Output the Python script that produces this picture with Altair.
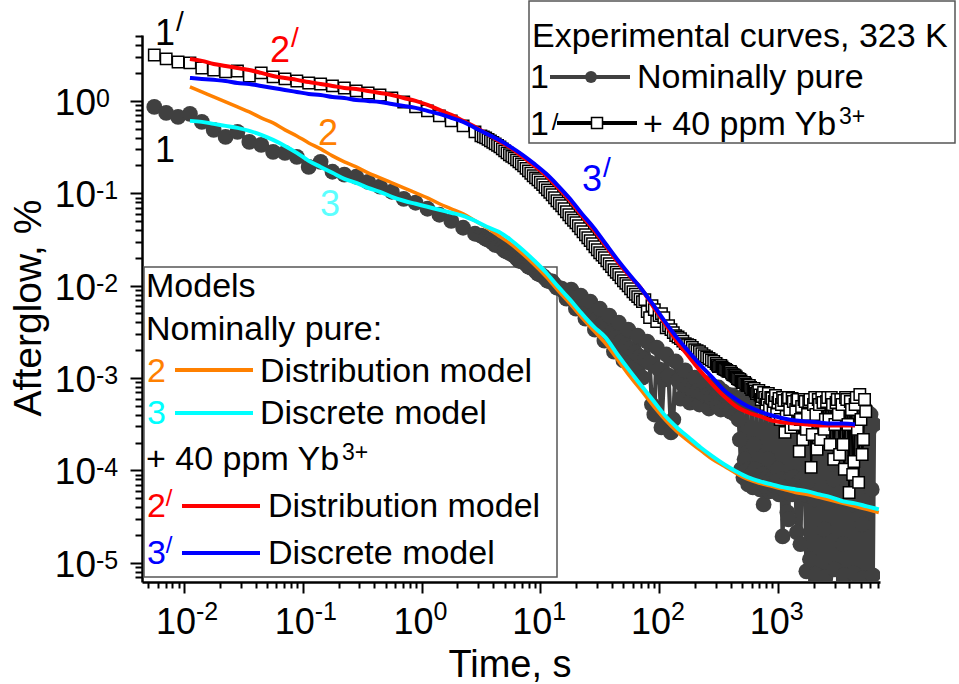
import altair as alt
import pandas as pd

FONT = "Liberation Sans"
PL, PT, PW, PH = 142, 35, 738, 547          # plot box in page pixels
GRAY, ORANGE, CYAN, RED, BLUE = "#404040", "#FF8000", "#00FFFF", "#FF0000", "#0000FF"

# ---------------- time grids (s) ----------------
T_EARLY = [0.005623, 0.007079, 0.008913, 0.01122, 0.01413, 0.01778, 0.02239, 0.02818, 0.03548, 0.04467,
           0.05623, 0.07079, 0.08913, 0.1122, 0.1413, 0.1778, 0.2239, 0.2818, 0.3548, 0.4467,
           0.5623, 0.7079, 0.8913, 1.122, 1.413, 1.778, 2.239, 2.818]
T_MID = [3.162, 3.467, 3.802, 4.169, 4.571, 5.012, 5.495, 6.026, 6.607, 7.244,
         7.943, 8.710, 9.550, 10.47, 11.48, 12.59, 13.80, 15.14, 16.60, 18.20,
         19.95, 21.88, 23.99, 26.30, 28.84, 31.62, 34.67, 38.02, 41.69, 45.71,
         50.12, 54.95, 60.26, 66.07, 72.44, 79.43, 87.10, 95.50, 104.7, 114.8,
         125.9, 138.0, 151.4, 166.0, 182.0, 199.5, 218.8, 239.9, 263.0, 288.4]
T_MID_B = [3.311, 3.631, 3.981, 4.365, 4.786, 5.248, 5.754, 6.310, 6.918, 7.586,
           8.318, 9.120, 10.00, 10.96, 12.02, 13.18, 14.45, 15.85, 17.38, 19.05,
           20.89, 22.91, 25.12, 27.54, 30.20, 33.11, 36.31, 39.81, 43.65, 47.86,
           52.48, 57.54, 63.10, 69.18, 75.86, 83.18, 91.20, 100.0, 109.6, 120.2,
           131.8, 144.5, 158.5, 173.8, 190.5, 208.9, 229.1, 251.2, 275.4]
T_LATE = [302.0, 316.2, 331.1, 346.7, 363.1, 380.2, 398.1, 416.9, 436.5, 457.1,
          478.6, 501.2, 524.8, 549.5, 575.4, 602.6, 631.0, 660.7, 691.8, 724.4,
          758.6, 794.3, 831.8, 871.0, 912.0, 955.0, 1000, 1047, 1096, 1148,
          1202, 1259, 1318, 1380, 1445, 1514, 1585, 1660, 1738, 1820,
          1905, 1995, 2089, 2188, 2291, 2399, 2512, 2630, 2754, 2884,
          3020, 3162, 3311, 3467, 3631, 3802, 3981, 4169, 4365, 4571,
          4786, 5012, 5248, 5495, 5754, 6026, 6310]
T_LATE_B = [309.0, 323.6, 338.8, 354.8, 371.5, 389.0, 407.4, 426.6, 446.7, 467.7,
            489.8, 512.9, 537.0, 562.3, 588.8, 616.6, 645.7, 676.1, 707.9, 741.3,
            776.2, 812.8, 851.1, 891.3, 933.3, 977.2, 1023, 1072, 1122, 1175,
            1230, 1288, 1349, 1413, 1479, 1549, 1622, 1698, 1778, 1862,
            1950, 2042, 2138, 2239, 2344, 2455, 2570, 2692, 2818, 2951,
            3090, 3236, 3388, 3548, 3715, 3890, 4074, 4266, 4467, 4677,
            4898, 5129, 5370, 5623, 5888, 6166, 6457]
T_MODEL = [0.01122, 0.01413, 0.01778, 0.02239, 0.02818, 0.03548, 0.04467, 0.05623, 0.07079, 0.08913,
           0.1122, 0.1413, 0.1778, 0.2239, 0.2818, 0.3548, 0.4467, 0.5623, 0.7079, 0.8913,
           1.122, 1.413, 1.778, 2.239, 2.818, 3.548, 4.467, 5.623, 7.079, 8.913,
           11.22, 14.13, 17.78, 22.39, 28.18, 35.48, 44.67, 56.23, 70.79, 89.13,
           112.2, 141.3, 177.8, 223.9, 281.8, 354.8, 446.7, 562.3, 707.9, 891.3,
           1122, 1413, 1778, 2239, 2818, 3548, 4467, 5623, 7079]

# ---------------- experimental curve 1: nominally pure (%) ----------------
PURE_EARLY = [0.861, 0.742, 0.672, 0.724, 0.593, 0.486, 0.408, 0.462, 0.360, 0.334,
              0.281, 0.274, 0.248, 0.193, 0.219, 0.171, 0.159, 0.151, 0.133, 0.118,
              0.104, 0.0872, 0.0790, 0.0680, 0.0586, 0.0504, 0.0424, 0.0365]
PURE_MID = [0.0347, 0.0322, 0.0307, 0.0277, 0.0271, 0.0239, 0.0227, 0.0211, 0.0186, 0.0182,
            0.0161, 0.0153, 0.0135, 0.0128, 0.0113, 0.0111, 0.00951, 0.00928, 0.00724, 0.00905,
            0.00564, 0.00780, 0.00440, 0.00672, 0.00334, 0.00564, 0.00254, 0.00474, 0.00193, 0.00398,
            0.00155, 0.00334, 0.00127, 0.00288, 0.00101, 0.00248, 5.17e-4, 0.00214, 2.92e-4, 0.00180,
            2.58e-4, 0.00151, 6.00e-4, 0.00121, 5.43e-4, 0.00101, 5.17e-4, 8.94e-4, 4.68e-4, 8.09e-4]
PURE_MID_B = [0.0339, 0.0314, 0.0292, 0.0274, 0.0254, 0.0233, 0.0219, 0.0198, 0.0184, 0.0171,
              0.0157, 0.0144, 0.0132, 0.0121, 0.0112, 0.0103, 0.00940, 0.00861, 0.00799, 0.00724,
              0.00655, 0.00593, 0.00537, 0.00474, 0.00429, 0.00379, 0.00343, 0.00310, 0.00274, 0.00248,
              0.00225, 0.00208, 0.00189, 0.00171, 0.00159, 0.00147, 4.03e-4, 0.00124, 9.63e-4, 0.00106,
              3.56e-4, 9.40e-4, 8.51e-4, 8.09e-4, 7.51e-4, 7.15e-4, 6.80e-4, 6.47e-4, 6.16e-4]
PURE_LATE = [6.16e-4, 7.90e-4, 4.57e-4, 7.15e-4, 5.17e-4, 6.63e-4, 4.34e-4, 6.47e-4, 4.03e-4, 5.86e-4,
             2.16e-4, 6.16e-4, 1.32e-4, 5.57e-4, 1.03e-4, 5.30e-4, 1.91e-4, 5.04e-4, 7.99e-5, 5.43e-4,
             4.29e-5, 4.80e-4, 1.32e-4, 5.17e-4, 6.23e-5, 4.57e-4, 1.03e-4, 5.04e-4, 1.93e-5, 4.68e-4,
             3.51e-5, 4.92e-4, 5.50e-5, 4.57e-4, 2.14e-5, 4.80e-4, 7.99e-5, 4.45e-4, 8.09e-6, 4.68e-4,
             1e-6, 4.34e-4, 7.51e-6, 4.80e-4, 1e-6, 4.24e-4, 6.97e-6, 4.57e-4, 1e-6, 4.34e-4,
             8.51e-6, 4.68e-4, 1e-6, 4.13e-4, 7.33e-6, 4.57e-4, 1e-6, 4.34e-4, 7.70e-6, 4.80e-4,
             1e-6, 4.24e-4, 6.80e-6, 4.57e-4, 1e-6, 4.03e-4, 7.33e-6]
PURE_LATE_B = [5.17e-4, 6.63e-4, 5.57e-4, 4.68e-4, 6.16e-4, 5.04e-4, 5.71e-4, 4.57e-4, 5.30e-4, 3.56e-4,
               1.03e-4, 8.40e-5, 9.75e-5, 7.06e-5, 8.83e-5, 6.55e-5, 1.03e-4, 7.61e-5, 6.23e-5, 9.05e-5,
               6.88e-5, 8.40e-5, 5.93e-5, 7.99e-5, 6.88e-5, 8.83e-5, 5.50e-5, 7.99e-5, 6.23e-5, 7.61e-5,
               2.95e-5, 7.06e-5, 8.40e-5, 5.93e-5, 7.24e-5, 1.59e-5, 6.55e-5, 5.50e-5, 7.61e-5, 1.09e-5,
               3.14e-4, 4.86e-5, 3.84e-4, 1e-6, 2.92e-4, 2.30e-5, 3.56e-4, 1e-6, 2.78e-4, 7.99e-5,
               3.39e-4, 1e-6, 3.07e-4, 1.59e-5, 3.84e-4, 1e-6, 2.64e-4, 4.29e-5, 3.56e-4, 1e-6,
               2.92e-4, 2.61e-5, 3.39e-4, 1e-6, 2.78e-4, 6.23e-5, 3.14e-4]

# ---------------- experimental curve 1': + 40 ppm Yb3+ (%) ----------------
YB_EARLY = [3.14, 2.85, 2.64, 2.58, 2.27, 2.16, 2.06, 2.11, 1.86, 2.01,
            1.82, 1.73, 1.645, 1.565, 1.527, 1.453, 1.382, 1.283, 1.220, 1.161,
            1.077, 0.975, 0.861, 0.780, 0.688, 0.608, 0.537, 0.462]
YB_MID = [0.418, 0.398, 0.369, 0.343, 0.318, 0.288, 0.261, 0.242, 0.219, 0.198,
          0.175, 0.155, 0.140, 0.124, 0.109, 0.0963, 0.0830, 0.0733, 0.0631, 0.0544,
          0.0480, 0.0413, 0.0356, 0.0307, 0.0264, 0.0227, 0.0201, 0.0173, 0.0149, 0.0132,
          0.0113, 0.0100, 0.00861, 0.00761, 0.00672, 0.00524, 0.00608, 0.00408, 0.00498, 0.00351,
          0.00334, 0.00288, 0.00267, 0.00236, 0.00225, 0.00203, 0.00193, 0.00175, 0.00163, 0.00151]
YB_MID_B = [0.408, 0.3835, 0.356, 0.330, 0.3027, 0.274, 0.251, 0.230, 0.208, 0.186,
            0.1645, 0.147, 0.1316, 0.116, 0.1025, 0.0894, 0.0780, 0.0680, 0.0586, 0.0511,
            0.0445, 0.0384, 0.0330, 0.0284, 0.0245, 0.0214, 0.0186, 0.0161, 0.0140, 0.0122,
            0.0106, 0.00928, 0.00809, 0.00715, 0.00706, 0.00451, 0.00550, 0.00474, 0.00451, 0.00369,
            0.00310, 0.00278, 0.00251, 0.00230, 0.00214, 0.00198, 0.00184, 0.00169, 0.00157]
YB_LATE = [0.00144, 0.00133, 0.00137, 0.00127, 0.00124, 0.00118, 0.00118, 0.00109, 0.00106, 9.88e-4,
           9.63e-4, 8.94e-4, 8.94e-4, 8.30e-4, 8.30e-4, 7.51e-4, 7.70e-4, 6.80e-4, 7.33e-4, 5.86e-4,
           6.97e-4, 5.17e-4, 6.80e-4, 6.16e-4, 4.34e-4, 6.47e-4, 5.43e-4, 3.56e-4, 6.16e-4, 2.58e-4,
           5.86e-4, 4.57e-4, 6.00e-4, 3.14e-4, 5.71e-4, 1.61e-4, 4.92e-4, 5.86e-4, 2.78e-4, 5.57e-4,
           1.08e-4, 5.17e-4, 4.03e-4, 5.86e-4, 2.16e-4, 5.43e-4, 3.56e-4, 6.16e-4, 1.91e-4, 5.17e-4,
           3.14e-4, 5.86e-4, 1.49e-4, 5.17e-4, 1.03e-4, 5.86e-4, 5.78e-5, 4.57e-4, 1.25e-4, 6.16e-4,
           7.42e-5, 3.56e-4, 2.16e-4, 4.34e-4]
YB_LATE_B = [0.00138, 0.00135, 0.00132, 0.00125, 0.00121, 0.00118, 0.00113, 0.00108, 0.00103, 9.75e-4,
             9.28e-4, 8.94e-4, 8.61e-4, 8.30e-4, 7.90e-4, 7.61e-4, 7.24e-4, 7.06e-4, 6.55e-4, 6.31e-4,
             6.16e-4, 5.86e-4, 4.80e-4, 6.00e-4, 5.57e-4, 4.03e-4, 6.00e-4, 5.17e-4, 5.71e-4, 3.84e-4,
             6.16e-4, 2.92e-4, 5.57e-4, 4.57e-4, 5.86e-4, 3.56e-4, 2.16e-4, 5.57e-4, 4.03e-4, 5.86e-4,
             2.45e-4, 6.16e-4, 1.69e-4, 5.17e-4, 6.16e-4, 2.78e-4, 5.57e-4, 3.56e-4, 6.16e-4, 1.32e-4,
             5.43e-4, 4.03e-4, 5.86e-4, 1.91e-4, 6.16e-4, 3.14e-4, 5.57e-4, 9.05e-5, 5.17e-4, 2.78e-4,
             6.63e-4, 1.49e-4, 5.86e-4]

# ---------------- model curves (%) ----------------
ORANGE_2 = [1.417, 1.251, 1.105, 0.975, 0.861, 0.7605, 0.655, 0.578, 0.486, 0.418,
            0.351, 0.3027, 0.254, 0.219, 0.193, 0.1666, 0.1471, 0.1299, 0.1147, 0.1012,
            0.0894, 0.0770, 0.0680, 0.0600, 0.0504, 0.0424, 0.0347, 0.0284, 0.0222, 0.0169,
            0.0125, 0.00883, 0.00639, 0.00451, 0.00326, 0.00236, 0.00159, 0.00106, 7.33e-4, 5.04e-4,
            3.56e-4, 2.64e-4, 2.06e-4, 1.65e-4, 1.32e-4, 1.11e-4, 9.28e-5, 7.99e-5, 7.24e-5, 6.72e-5,
            6.23e-5, 5.78e-5, 5.50e-5, 5.11e-5, 4.74e-5, 4.40e-5, 4.08e-5, 3.79e-5, 3.51e-5]
CYAN_3 = [0.608, 0.593, 0.564, 0.537, 0.511, 0.474, 0.429, 0.379, 0.326, 0.274,
          0.2245, 0.193, 0.1666, 0.1435, 0.1299, 0.1147, 0.1038, 0.0917, 0.0830, 0.0770,
          0.0715, 0.0663, 0.0616, 0.0571, 0.0504, 0.0434, 0.0384, 0.0314, 0.0245, 0.0186,
          0.0138, 0.00975, 0.00706, 0.00498, 0.00360, 0.00274, 0.00180, 0.00121, 8.30e-4, 5.71e-4,
          3.93e-4, 2.92e-4, 2.27e-4, 1.77e-4, 1.42e-4, 1.16e-4, 9.75e-5, 8.40e-5, 7.61e-5, 7.06e-5,
          6.55e-5, 6.23e-5, 5.93e-5, 5.50e-5, 5.11e-5, 4.62e-5, 4.40e-5, 4.08e-5, 3.79e-5]
RED_2P = [2.85, 2.71, 2.51, 2.39, 2.27, 2.16, 2.01, 1.86, 1.77, 1.69,
          1.60, 1.527, 1.453, 1.382, 1.348, 1.283, 1.220, 1.161, 1.077, 1.000,
          0.905, 0.799, 0.706, 0.608, 0.524, 0.440, 0.369, 0.310, 0.248, 0.198,
          0.155, 0.1147, 0.0830, 0.0571, 0.0403, 0.0271, 0.0182, 0.0128, 0.00928, 0.00593,
          0.00388, 0.00248, 0.00171, 0.00118, 8.51e-4, 6.31e-4, 4.92e-4, 4.24e-4, 3.84e-4, 3.47e-4,
          3.30e-4, 3.22e-4, 3.14e-4, 3.07e-4, 3.07e-4, 3.07e-4, 3.07e-4]
BLUE_3P = [1.77, 1.73, 1.69, 1.645, 1.565, 1.527, 1.453, 1.382, 1.315, 1.251,
           1.190, 1.161, 1.105, 1.077, 1.025, 1.000, 0.975, 0.928, 0.883, 0.840,
           0.780, 0.724, 0.655, 0.593, 0.511, 0.440, 0.379, 0.318, 0.261, 0.208,
           0.1625, 0.1206, 0.0872, 0.0600, 0.0424, 0.0284, 0.0191, 0.0132, 0.00928, 0.00623,
           0.00408, 0.00274, 0.00193, 0.00137, 0.00101, 7.33e-4, 5.86e-4, 4.92e-4, 4.34e-4, 3.93e-4,
           3.65e-4, 3.47e-4, 3.39e-4, 3.30e-4, 3.22e-4, 3.22e-4, 3.14e-4]

# ---------------- tick labels ----------------
X_DECADES = [0.01, 0.1, 1, 10, 100, 1000]
X_EXP = ["-2", "-1", "0", "1", "2", "3"]
Y_DECADES = [1e-5, 1e-4, 1e-3, 1e-2, 1e-1, 1]
Y_EXP = ["-5", "-4", "-3", "-2", "-1", "0"]

X_TICKS = [m * 10.0 ** e for e in range(-3, 4) for m in range(1, 10) if 0.0045 <= m * 10.0 ** e <= 7200]
Y_TICKS = [m * 10.0 ** e for e in range(-6, 1) for m in range(1, 10) if 6.3e-6 <= m * 10.0 ** e <= 5.1]

# ---------------- frames ----------------
pure = pd.DataFrame({
    "t": T_EARLY + T_MID + T_MID_B + T_LATE + T_LATE_B,
    "a": PURE_EARLY + PURE_MID + PURE_MID_B + PURE_LATE + PURE_LATE_B,
}).sort_values("t")
yb = pd.DataFrame({
    "t": T_EARLY + T_MID + T_MID_B + T_LATE[:len(YB_LATE)] + T_LATE_B[:len(YB_LATE_B)],
    "a": YB_EARLY + YB_MID + YB_MID_B + YB_LATE + YB_LATE_B,
}).sort_values("t")


def model_df(vals):
    return pd.DataFrame({"t": T_MODEL[:len(vals)], "a": vals})


XS = alt.Scale(type="log", domain=[0.00443, 7244], nice=False)
YS = alt.Scale(type="log", domain=[6.2e-6, 5.17], nice=False)
DEC = "abs(log(datum.value)/LN10 - round(log(datum.value)/LN10)) < 0.001"

xaxis = alt.Axis(values=X_TICKS, labels=False, title=None, grid=False,
                 domainColor="black", domainWidth=2.5, tickColor="black", tickWidth=2,
                 tickSize={"condition": {"test": DEC, "value": 11}, "value": 6})
yaxis = alt.Axis(values=Y_TICKS, labels=False, title=None, grid=False,
                 domainColor="black", domainWidth=2.5, tickColor="black", tickWidth=2,
                 tickSize={"condition": {"test": DEC, "value": 12}, "value": 7})

xe = alt.X("t:Q", scale=XS, axis=xaxis)
ye = alt.Y("a:Q", scale=YS, axis=yaxis)

ONE = pd.DataFrame({"k": [0]})


def txt(s, x, y, size=34, color="black", align="left", angle=0):
    props = dict(text=s, align=align, baseline="alphabetic", font=FONT, fontSize=size, color=color)
    if angle:
        props["angle"] = angle
    return alt.Chart(ONE).mark_text(**props).encode(x=alt.value(x - PL), y=alt.value(y - PT))


def box(x1, y1, x2, y2):
    return alt.Chart(ONE).mark_rect(fill="transparent", stroke="#555555", strokeWidth=1.5).encode(
        x=alt.value(x1 - PL), x2=alt.value(x2 - PL), y=alt.value(y1 - PT), y2=alt.value(y2 - PT))


def seg(x1, x2, y, color, w=4):
    return alt.Chart(ONE).mark_rule(color=color, strokeWidth=w).encode(
        x=alt.value(x1 - PL), x2=alt.value(x2 - PL), y=alt.value(y - PT))


layers = [box(529, 1, 955, 143), box(144, 267, 557, 577)]

# experimental data
layers.append(alt.Chart(pure).mark_line(color=GRAY, strokeWidth=4.2, clip=True).encode(x=xe, y=ye))
layers.append(alt.Chart(pure).mark_point(shape="circle", filled=True, color=GRAY, size=250,
                                         opacity=1, clip=True).encode(x=xe, y=ye))
layers.append(alt.Chart(yb).mark_line(color="black", strokeWidth=2, clip=True).encode(x=xe, y=ye))
layers.append(alt.Chart(yb).mark_point(shape="square", filled=True, fill="white", stroke="black",
                                       strokeWidth=1.5, size=130, opacity=1, clip=True).encode(x=xe, y=ye))
# models
for vals, col, w in [(ORANGE_2, ORANGE, 3.5), (CYAN_3, CYAN, 4), (RED_2P, RED, 4), (BLUE_3P, BLUE, 4)]:
    layers.append(alt.Chart(model_df(vals)).mark_line(color=col, strokeWidth=w, clip=True,
                                                       interpolate="monotone").encode(x=xe, y=ye))

# tick labels
ylab = pd.DataFrame({"v": Y_DECADES, "e": Y_EXP})
xlab = pd.DataFrame({"v": X_DECADES, "e": X_EXP})
yv = alt.Y("v:Q", scale=YS, axis=yaxis)
xv = alt.X("v:Q", scale=XS, axis=xaxis)
layers.append(alt.Chart(ylab).mark_text(text="10", align="right", baseline="alphabetic", font=FONT,
                                        fontSize=37, dy=14, color="black").encode(y=yv, x=alt.value(96 - PL)))
layers.append(alt.Chart(ylab).mark_text(align="left", baseline="alphabetic", font=FONT,
                                        fontSize=25, dy=6, color="black").encode(y=yv, x=alt.value(96 - PL), text="e:N"))
layers.append(alt.Chart(xlab).mark_text(text="10", align="right", baseline="alphabetic", font=FONT,
                                        fontSize=36, dx=12, color="black").encode(x=xv, y=alt.value(634 - PT)))
layers.append(alt.Chart(xlab).mark_text(align="left", baseline="alphabetic", font=FONT,
                                        fontSize=25, dx=12, color="black").encode(x=xv, y=alt.value(620 - PT), text="e:N"))

# axis titles
layers.append(txt("Afterglow, %", 41, 308, size=39, align="center", angle=270))
layers.append(txt("Time, s", 510, 677, size=38, align="center"))

# curve annotations
layers += [
    txt("1", 165, 45, 36, "black", "center"), txt("/", 180, 31, 28, "black", "center"),
    txt("2", 280, 62, 36, RED, "center"), txt("/", 295, 47, 28, RED, "center"),
    txt("1", 165, 162, 36, "black", "center"),
    txt("2", 328, 145, 36, ORANGE, "center"),
    txt("3", 330, 216, 36, "#5CFFFF", "center"),
    txt("3", 592, 191, 36, BLUE, "center"), txt("/", 607, 177, 28, BLUE, "center"),
]

# upper legend
layers += [
    txt("Experimental curves, 323 K", 532, 47),
    txt("1", 530, 88), seg(550, 630, 77, GRAY),
    alt.Chart(ONE).mark_point(shape="circle", filled=True, color=GRAY, size=144, opacity=1).encode(
        x=alt.value(591 - PL), y=alt.value(77 - PT)),
    txt("Nominally pure", 637, 88),
    txt("1", 530, 135), txt("/", 555, 130, 24, "black", "center"), seg(557, 637, 123, "black"),
    alt.Chart(ONE).mark_point(shape="square", filled=True, fill="white", stroke="black", strokeWidth=1.5,
                              size=121, opacity=1).encode(x=alt.value(597 - PL), y=alt.value(123 - PT)),
    txt("+ 40 ppm Yb", 643, 135), txt("3+", 839, 124, 23),
]

# lower legend
layers += [
    txt("Models", 146, 297),
    txt("Nominally pure:", 146, 340),
    txt("2", 147, 382, 34, ORANGE), seg(175, 253, 370, ORANGE), txt("Distribution model", 260, 382),
    txt("3", 147, 424, 34, CYAN), seg(175, 253, 413, CYAN), txt("Discrete model", 260, 424),
    txt("+ 40 ppm Yb", 146, 470), txt("3+", 342, 460, 23),
    txt("2", 147, 517, 34, RED), txt("/", 169, 506, 24, RED, "center"), seg(182, 260, 506, RED),
    txt("Distribution model", 268, 517),
    txt("3", 147, 564, 34, BLUE), txt("/", 169, 553, 24, BLUE, "center"), seg(182, 260, 553, BLUE),
    txt("Discrete model", 268, 564),
]

chart = alt.layer(*layers).properties(
    width=PW, height=PH,
    autosize=alt.AutoSizeParams(type="none"),
    padding={"left": PL, "top": PT, "right": 959 - PL - PW, "bottom": 684 - PT - PH},
).configure_view(stroke=None)

chart.save("out.html", embed_options={"renderer": "svg", "actions": False})
